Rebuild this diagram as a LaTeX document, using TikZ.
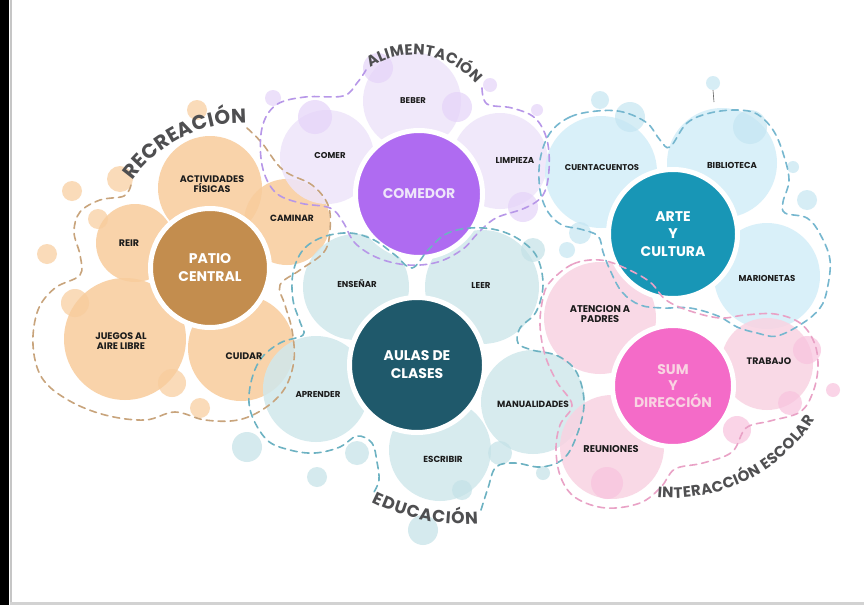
\documentclass[tikz,border=0pt]{standalone}
\usepackage{fontspec}
\setmainfont{Poppins}
\usepackage{tikz}
\usetikzlibrary{decorations.text}
\definecolor{Peach}{HTML}{F8CC9C}
\definecolor{PatioBrown}{HTML}{C38D4E}
\definecolor{Lilac}{HTML}{EEE5FA}
\definecolor{ComedorPurple}{HTML}{AF6BF1}
\definecolor{EduTeal}{HTML}{D0E8EC}
\definecolor{AulasTeal}{HTML}{1F596B}
\definecolor{ArteBlue}{HTML}{D3EEF8}
\definecolor{ArteCyan}{HTML}{1896B6}
\definecolor{PinkSoft}{HTML}{F9D3E2}
\definecolor{SumPink}{HTML}{F46BC8}
\definecolor{TanDash}{HTML}{C8A47C}
\definecolor{PurpleDash}{HTML}{B797E8}
\definecolor{TealDash}{HTML}{6DB2C2}
\definecolor{BlueDash}{HTML}{76B7CF}
\definecolor{PinkDash}{HTML}{E9A2C6}
\definecolor{LabelGrey}{HTML}{4F4F51}
\definecolor{Ink}{HTML}{1C1C1C}

\begin{document}
\begin{tikzpicture}[x=1pt, y=-1pt,
    petal/.style={circle, fill=#1, fill opacity=.85, inner sep=0pt},
    hub/.style={circle, fill=#1, draw=white, line width=5pt, inner sep=0pt,
      align=center, text=white, font=\fontsize{14}{18}\selectfont\bfseries},
    tag/.style={align=center, inner sep=0pt, text=Ink,
      font=\fontsize{#1}{10.5}\selectfont\bfseries},
    bubble/.style={fill=#1, fill opacity=.7},
    fence/.style={draw=#1, line width=1.6pt, dash pattern=on 7pt off 5pt, line cap=round}]
  % frame
  \fill[white] (0,0) rectangle (864,605);
  \useasboundingbox (0,0) rectangle (864,605);
  \fill[black] (0,0) rectangle (9,605);
  \fill[gray!45] (10,0) rectangle (12,605);
  \fill[gray!35] (10,602) rectangle (864,605);

  % petals
  \foreach \n/\c/\x/\y/\d in {
      actividades/Peach/210/188/104, caminar/Peach/287/222/86, reir/Peach/135/243/78,
      juegos/Peach/125/339/122, cuidar/Peach/241/348/106,
      beber/Lilac/412/101/98, comer/Lilac/327/157/94, limpieza/Lilac/500/161/96,
      ensenar/EduTeal/356/287/106, leer/EduTeal/482/287/114, aprender/EduTeal/316/389/106,
      manualidades/EduTeal/533/402/104, escribir/EduTeal/440/450/102,
      cuentacuentos/ArteBlue/601/172/112, biblioteca/ArteBlue/722/163/110,
      marionetas/ArteBlue/767/276/106,
      atencion/PinkSoft/600/318/112, trabajo/PinkSoft/767/364/92, reuniones/PinkSoft/612/447/104}
    \node[petal=\c, minimum size=\d pt] (\n) at (\x,\y) {};

  % bubbles
  \foreach \x/\y/\r in {197/110/10, 120/179/13, 72/191/10, 98/219/10, 47/254/10,
      75/303/14, 172/383/14, 200/408/10}
    \fill[bubble=Peach] (\x,\y) circle[radius=\r];
  \foreach \x/\y/\r in {273/98/8, 315/117/17, 378/68/15, 457/107/15, 490/85/7,
      537/110/6, 523/207/15}
    \fill[bubble=Lilac!85!ComedorPurple] (\x,\y) circle[radius=\r];
  \foreach \x/\y/\r in {600/100/9, 630/117/15, 750/127/17, 793/167/6, 807/200/10,
      567/250/8, 580/233/11}
    \fill[bubble=ArteBlue!85!BlueDash] (\x,\y) circle[radius=\r];
  \foreach \x/\y/\r in {247/447/15, 317/477/10, 357/453/12, 423/530/15, 462/490/10,
      500/453/12, 543/473/7, 533/250/12}
    \fill[bubble=EduTeal!88!TealDash] (\x,\y) circle[radius=\r];
  \foreach \x/\y/\r in {833/390/7, 807/350/14, 790/403/12, 737/430/14, 607/483/16}
    \fill[bubble=PinkSoft!85!SumPink] (\x,\y) circle[radius=\r];
  \node[circle, fill=ArteBlue!85!BlueDash, fill opacity=.7, minimum size=14pt, inner sep=0pt] (pin) at (713,83) {};
  \coordinate (pintip) at (714,102);
  \draw[Ink!70, line width=.6pt] (pin.south) -- (pintip);

  % hubs
  \node[hub=PatioBrown, minimum size=119pt] (patio) at (210,268) {PATIO\\CENTRAL};
  \node[hub=ComedorPurple, minimum size=127pt, text=Lilac] (comedor) at (419,194) {COMEDOR};
  \node[hub=AulasTeal, minimum size=135pt] (aulas) at (417,365) {AULAS DE\\CLASES};
  \node[hub=ArteCyan, minimum size=129pt, font=\fontsize{14}{17.5}\selectfont\bfseries] (arte) at (673,234) {ARTE\\Y\\CULTURA};
  \node[hub=SumPink, minimum size=121pt, text=PinkSoft, font=\fontsize{14}{16.5}\selectfont\bfseries] (sum) at (673,386) {SUM\\Y\\DIRECCIÓN};

  % dashed group outlines
  \draw[fence=TanDash] plot[smooth, tension=.6] coordinates {(247,128) (262,143) (283,170)
    (312,185) (328,205) (330,230) (324,252) (300,270) (280,285) (285,305) (292,330)
    (294,360) (285,388) (265,408) (238,420) (205,420) (175,412) (145,420) (105,415)
    (68,400) (42,378) (33,345) (38,310) (55,288) (80,275) (80,255) (74,232) (80,212)
    (100,200) (124,196) (131,185)};
  \draw[fence=PurpleDash] plot[smooth, tension=.6] coordinates {(482,88) (487,104) (512,108)
    (535,118) (547,140) (549,170) (543,195) (525,208) (496,218) (478,233) (463,249)
    (438,262) (408,265) (378,258) (355,243) (343,222) (330,208) (300,203) (275,192)
    (262,165) (262,128) (276,105) (305,97) (343,96) (357,83) (366,70)};
  \draw[fence=TealDash] plot[smooth, tension=.6] coordinates {(481,510) (488,488) (496,467)
    (515,463) (540,467) (562,460) (575,440) (584,405) (577,373) (558,356) (532,350)
    (518,343) (520,328) (536,312) (543,285) (537,257) (520,240) (497,230) (470,228)
    (446,234) (428,250) (412,268) (395,255) (374,240) (350,233) (323,237) (303,250)
    (293,273) (293,300) (300,322) (303,335) (280,343) (260,360) (250,387) (251,413)
    (267,440) (290,450) (315,453) (340,447) (357,436) (372,443) (377,462) (379,480)
    (374,492)};
  \draw[fence=BlueDash] plot[smooth cycle, tension=.6] coordinates {(550,133) (570,117)
    (597,111) (623,112) (647,123) (660,140) (670,147) (687,123) (710,113) (737,110)
    (757,114) (773,130) (783,153) (789,180) (783,202) (785,213) (807,218) (820,234)
    (830,260) (827,290) (820,308) (803,323) (777,336) (757,333) (737,327) (718,316)
    (690,308) (663,308) (640,305) (622,292) (610,270) (603,252) (598,236) (580,229)
    (562,225) (548,212) (540,190) (540,160)};
  \draw[fence=PinkDash] plot[smooth cycle, tension=.6] coordinates {(550,282) (573,264)
    (600,260) (625,268) (650,282) (666,300) (690,311) (720,318) (745,315) (775,314)
    (800,323) (814,342) (818,366) (813,392) (800,412) (770,421) (746,428) (732,452)
    (703,463) (675,469) (661,487) (640,503) (606,508) (576,498) (561,478) (556,450)
    (560,425) (572,405) (557,382) (545,355) (540,325) (543,298)};

  % petal labels
  \foreach \n/\s/\x/\y/\t in {
      actividades/9.5/212/184/{ACTIVIDADES\\FÍSICAS}, caminar/9/292/218/CAMINAR,
      reir/9.5/129/243/REIR, juegos/9.5/121/341/{JUEGOS AL\\AIRE LIBRE}, cuidar/9.5/244/356/CUIDAR,
      beber/8.4/413/101/BEBER, comer/8.5/330/156/COMER, limpieza/8.6/515/160/LIMPIEZA,
      ensenar/8.6/357/284/ENSEÑAR, leer/8.6/481/285/LEER, aprender/8.6/318/394/APRENDER,
      manualidades/9/533/404/MANUALIDADES, escribir/8.8/443/459/ESCRIBIR,
      cuentacuentos/8.4/602/168/CUENTACUENTOS, biblioteca/8.6/732/165/BIBLIOTECA,
      marionetas/8.6/767/278/MARIONETAS,
      atencion/9.8/600/314/{ATENCION A\\PADRES}, trabajo/9.4/769/361/TRABAJO,
      reuniones/9.8/611/449/REUNIONES}
    \node[tag=\s] (\n-txt) at (\x,\y) {\t};

  % group titles on arcs
  \path[decorate, decoration={text along path, text align=fit to path, text color=LabelGrey,
      text={|\fontsize{20}{20}\selectfont\bfseries|RECREACIÓN}}]
    (132.5,180.4) arc[start angle=215.5, end angle=271, radius=137];
  \path[decorate, decoration={text along path, text align=fit to path, text color=LabelGrey,
      text={|\fontsize{15}{15}\selectfont\bfseries|ALIMENTACIÓN}}]
    (370.1,68.1) arc[start angle=236.7, end angle=320.6, radius=80];
  \path[decorate, decoration={text along path, text align=fit to path, text color=LabelGrey,
      text={|\fontsize{17}{17}\selectfont\bfseries|EDUCACIÓN}}]
    (371.9,502.3) arc[start angle=116.8, end angle=85.7, radius=202];
  \path[decorate, decoration={text along path, text align=fit to path, text color=LabelGrey,
      text={|\fontsize{15}{15}\selectfont\bfseries|INTERACCIÓN ESCOLAR}}]
    (657.3,497.4) arc[start angle=95, end angle=32.5, radius=169];
\end{tikzpicture}
\end{document}
